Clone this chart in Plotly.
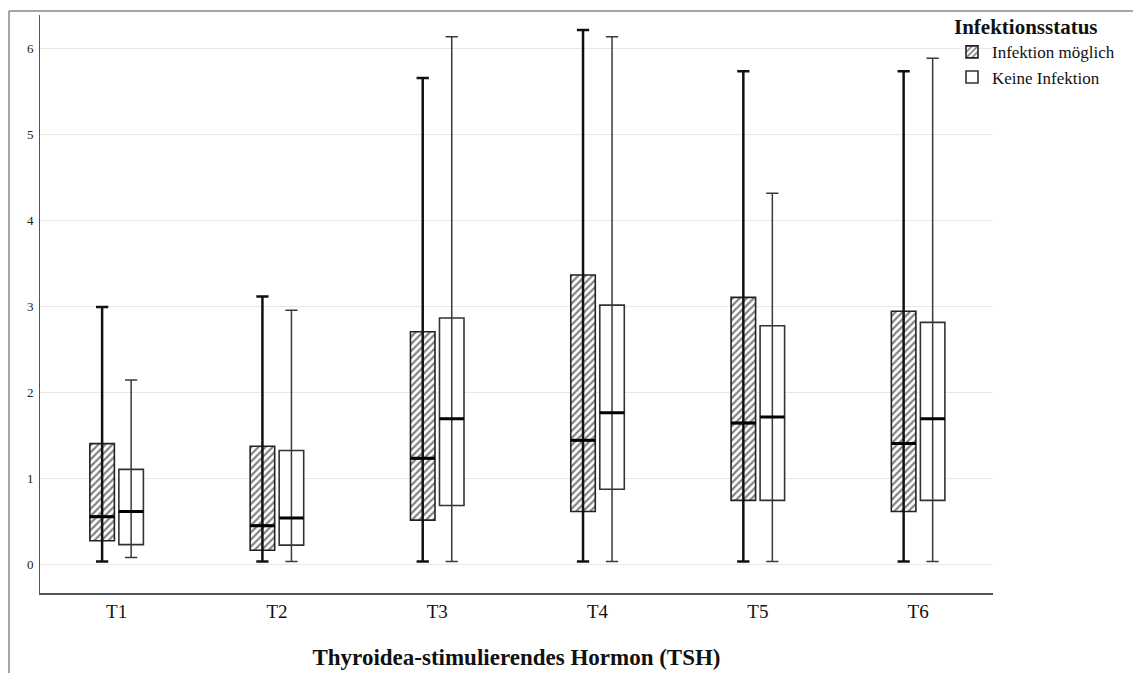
import plotly.graph_objects as go

categories = ["T1", "T2", "T3", "T4", "T5", "T6"]

# Infektion möglich (hatched)
inf_min = [0.03, 0.03, 0.03, 0.03, 0.03, 0.03]
inf_q1 = [0.27, 0.16, 0.51, 0.61, 0.74, 0.61]
inf_med = [0.55, 0.445, 1.23, 1.44, 1.64, 1.40]
inf_q3 = [1.40, 1.37, 2.70, 3.36, 3.10, 2.94]
inf_max = [2.99, 3.11, 5.65, 6.21, 5.73, 5.73]

# Keine Infektion (open)
kei_min = [0.075, 0.03, 0.03, 0.03, 0.03, 0.03]
kei_q1 = [0.225, 0.22, 0.68, 0.87, 0.74, 0.74]
kei_med = [0.61, 0.535, 1.69, 1.76, 1.71, 1.69]
kei_q3 = [1.10, 1.32, 2.86, 3.01, 2.77, 2.81]
kei_max = [2.14, 2.95, 6.13, 6.13, 4.31, 5.88]

y_ticks = [0, 1, 2, 3, 4, 5, 6]

FONT = "Liberation Serif"
GAP = 0.638
GROUPGAP = 0.155

fig = go.Figure()

groups = [
    ("Infektion möglich", "inf", inf_min, inf_q1, inf_med, inf_q3, inf_max,
     dict(shape="/", fgcolor="#000000", bgcolor="white", size=5, solidity=0.42),
     "#111111", 2.5, "#222222"),
    ("Keine Infektion", "kei", kei_min, kei_q1, kei_med, kei_q3, kei_max,
     dict(shape=""),
     "#3a3a3a", 1.5, "#333333"),
]

# box bodies (bars from q1 to q3)
for name, og, mn, q1, med, q3, mx, pattern, wcol, wwid, ocol in groups:
    fig.add_trace(go.Bar(
        x=categories, y=[b - a for a, b in zip(q1, q3)], base=q1,
        name=name, offsetgroup=og,
        marker=dict(color="white", pattern=pattern,
                    line=dict(color=ocol, width=1.6)),
        hoverinfo="skip", showlegend=True,
    ))

# whiskers passing through boxes, with caps
for name, og, mn, q1, med, q3, mx, pattern, wcol, wwid, ocol in groups:
    fig.add_trace(go.Box(
        x=categories, q1=med, median=med, q3=med,
        lowerfence=mn, upperfence=mx,
        offsetgroup=og, boxpoints=False, whiskerwidth=0.5,
        line=dict(color=wcol, width=wwid),
        fillcolor="rgba(0,0,0,0)", showlegend=False, hoverinfo="skip",
    ))

# thick median lines
for name, og, mn, q1, med, q3, mx, pattern, wcol, wwid, ocol in groups:
    fig.add_trace(go.Box(
        x=categories, q1=med, median=med, q3=med,
        lowerfence=med, upperfence=med,
        offsetgroup=og, boxpoints=False, whiskerwidth=0,
        line=dict(color="#000000", width=3),
        fillcolor="rgba(0,0,0,0)", showlegend=False, hoverinfo="skip",
    ))

W, H = 1133, 673
ml, mr, mt, mb = 40, 140, 15, 80
pw, ph = W - ml - mr, H - mt - mb


def px_x(p):
    return (p - ml) / pw


def px_y(p):
    return (H - mb - p) / ph


fig.update_layout(
    width=W, height=H,
    margin=dict(l=ml, r=mr, t=mt, b=mb, autoexpand=False),
    paper_bgcolor="white", plot_bgcolor="white",
    barmode="group", bargap=GAP, bargroupgap=GROUPGAP,
    boxmode="group", boxgap=GAP, boxgroupgap=GROUPGAP,
    font=dict(family=FONT, color="#222222"),
    legend=dict(
        title=dict(text="<b>Infektionsstatus</b>", font=dict(size=21, family=FONT, color="#111111")),
        font=dict(size=17, family=FONT, color="#111111"),
        x=px_x(952), y=px_y(7), xanchor="left", yanchor="top",
        bgcolor="rgba(0,0,0,0)", tracegroupgap=0, itemwidth=30,
    ),
    xaxis=dict(
        type="category", categoryorder="array", categoryarray=categories,
        range=[-0.478, 5.467],
        showline=True, linecolor="#555555", linewidth=1.5,
        showgrid=False, zeroline=False, ticks="",
        tickfont=dict(size=19, family=FONT, color="#111111"),
        ticklabelstandoff=0,
        title=dict(text="<b>Thyroidea-stimulierendes Hormon (TSH)</b>",
                   font=dict(size=23, family=FONT, color="#111111"), standoff=28),
    ),
    yaxis=dict(
        range=[-0.337, 6.384],
        tickvals=y_ticks, ticktext=[str(v) for v in y_ticks],
        showline=True, linecolor="#555555", linewidth=1,
        showgrid=True, gridcolor="#e8e8e8", gridwidth=1,
        zeroline=False, ticks="",
        tickfont=dict(size=13, family=FONT, color="#222222"),
        ticklabelstandoff=3,
    ),
    shapes=[
        dict(type="line", xref="paper", yref="paper",
             x0=px_x(9), x1=px_x(W + 5), y0=px_y(11), y1=px_y(11),
             line=dict(color="#888888", width=1.5)),
        dict(type="line", xref="paper", yref="paper",
             x0=px_x(9), x1=px_x(9), y0=px_y(11), y1=px_y(H + 5),
             line=dict(color="#888888", width=1.5)),
    ],
)

fig.write_html(
    "out.html",
    config={"displayModeBar": False},
    post_script="document.body.style.margin='0';document.body.style.padding='0';document.body.style.overflow='hidden';",
)
